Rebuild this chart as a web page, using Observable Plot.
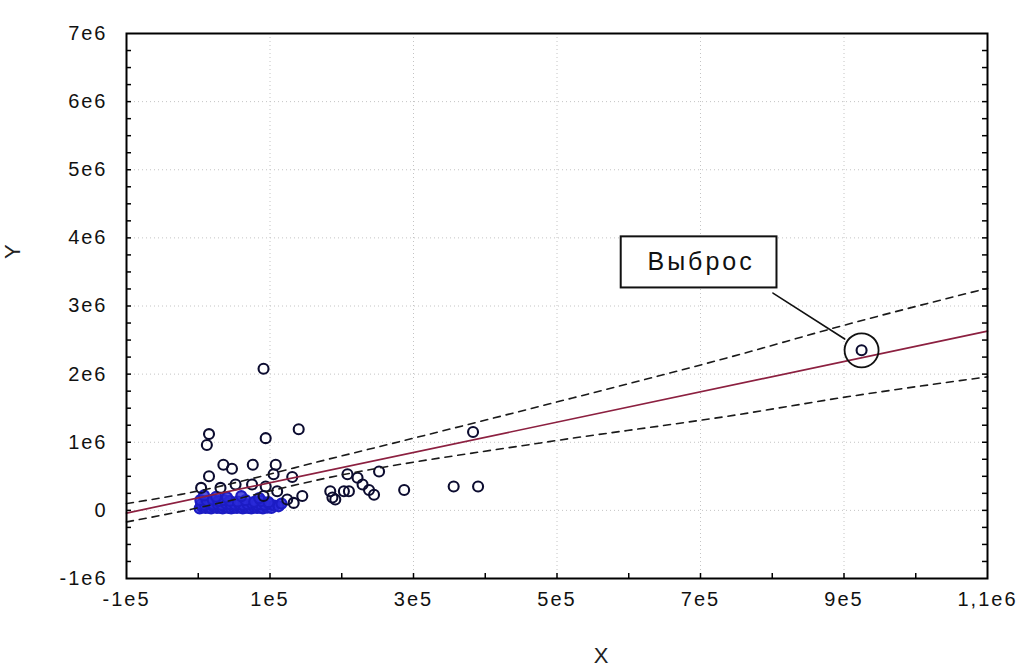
<!DOCTYPE html>
<html><head><meta charset="utf-8">
<script src="https://cdn.jsdelivr.net/npm/d3@7"></script>
<script src="https://cdn.jsdelivr.net/npm/@observablehq/plot@0.6"></script>
<style>
html,body{margin:0;padding:0;background:#fff;}
svg{font-family:"Liberation Sans",Arial,sans-serif;}
svg g[aria-label="x-axis tick label"] text, svg g[aria-label="y-axis tick label"] text{letter-spacing:2px;}
svg g.note text{letter-spacing:3px;}
</style></head>
<body><div id="chart"></div>
<script>
// Axis ticks
const xTickValues = [-1e5, 1e5, 3e5, 5e5, 7e5, 9e5, 1.1e6];
const xTickLabels = ["-1e5", "1e5", "3e5", "5e5", "7e5", "9e5", "1,1e6"];
const yTickValues = [-1e6, 0, 1e6, 2e6, 3e6, 4e6, 5e6, 6e6, 7e6];
const yTickLabels = ["-1e6", "0", "1e6", "2e6", "3e6", "4e6", "5e6", "6e6", "7e6"];
const xMinorTicks = [0, 1e5, 2e5, 3e5, 4e5, 5e5, 6e5, 7e5, 8e5, 9e5, 1e6];
const yMinorTicks = [-7.5e5, -5e5, -2.5e5, 0, 2.5e5, 5e5, 7.5e5, 1e6, 1.25e6, 1.5e6, 1.75e6, 2e6, 2.25e6, 2.5e6, 2.75e6, 3e6, 3.25e6, 3.5e6, 3.75e6, 4e6, 4.25e6, 4.5e6, 4.75e6, 5e6, 5.25e6, 5.5e6, 5.75e6, 6e6, 6.25e6, 6.5e6, 6.75e6];

// Scattered observations (X, Y)
const pointX = [91000, 15000, 12000, 94000, 140000, 35000, 47000, 76000, 108000, 15000, 105000, 131000, 145000, 187000, 4000, 31000, 52000, 75000, 94000, 110000, 124000, 133000, 91000, 184000, 191000, 203000, 210000, 208000, 222000, 229000, 238000, 245000, 252000, 287000, 356000, 390000, 383000, 924500];
const pointY = [2.08e6, 1.12e6, 0.96e6, 1.06e6, 1.19e6, 0.67e6, 0.61e6, 0.67e6, 0.67e6, 0.50e6, 0.53e6, 0.49e6, 0.21e6, 0.19e6, 0.33e6, 0.33e6, 0.38e6, 0.38e6, 0.35e6, 0.28e6, 0.16e6, 0.11e6, 0.21e6, 0.28e6, 0.16e6, 0.28e6, 0.28e6, 0.53e6, 0.48e6, 0.38e6, 0.30e6, 0.23e6, 0.57e6, 0.30e6, 0.35e6, 0.35e6, 1.15e6, 2.35e6];

// Dense cluster of observations near the origin
const clusterX = [2000, 6000, 10000, 14000, 18000, 22000, 26000, 30000, 34000, 38000, 42000, 46000, 50000, 54000, 58000, 62000, 66000, 70000, 74000, 78000, 82000, 86000, 90000, 96000, 102000,
  4000, 9000, 15000, 21000, 27000, 33000, 39000, 45000, 51000, 57000, 63000, 69000, 75000, 81000, 87000, 93000, 99000, 106000, 112000,
  3000, 12000, 20000, 28000, 36000, 44000, 55000, 66000, 78000, 88000, 98000, 116000,
  8000, 25000, 40000, 60000, 85000];
const clusterY = [30000, 45000, 35000, 40000, 30000, 50000, 35000, 40000, 30000, 45000, 35000, 30000, 40000, 35000, 45000, 30000, 40000, 35000, 30000, 45000, 35000, 40000, 30000, 40000, 35000,
  90000, 80000, 100000, 85000, 95000, 80000, 100000, 90000, 85000, 95000, 80000, 90000, 100000, 85000, 90000, 80000, 95000, 70000, 60000,
  150000, 140000, 160000, 135000, 150000, 140000, 130000, 150000, 125000, 140000, 120000, 100000,
  220000, 200000, 190000, 210000, 180000];

// Regression line and confidence bands
const fitX = [-1e5, 1.1e6];
const fitY = [-0.04e6, 2.63e6];
const upperX = [-1e5, -2.4e4, 2.0e5, 4.77e5, 7.55e5, 8.94e5, 1.1e6];
const upperY = [0.10e6, 0.235e6, 0.80e6, 1.53e6, 2.29e6, 2.70e6, 3.26e6];
const lowerX = [-1e5, -2.4e4, 2.0e5, 4.77e5, 7.55e5, 8.94e5, 1.1e6];
const lowerY = [-0.17e6, -0.015e6, 0.52e6, 0.99e6, 1.41e6, 1.65e6, 1.96e6];

// Annotation
const noteLabel = "Выброс";
const noteBoxX = [589500, 806600];
const noteBoxY = [3.265e6, 4.015e6];
const noteLineX = [801000, 901000];
const noteLineY = [3.19e6, 2.515e6];
const outlierX = 924500, outlierY = 2.35e6;

const points = pointX.map((x, i) => ({x, y: pointY[i]}));
const cluster = clusterX.map((x, i) => ({x, y: clusterY[i]}));
const fit = fitX.map((x, i) => ({x, y: fitY[i]}));
const upper = upperX.map((x, i) => ({x, y: upperY[i]}));
const lower = lowerX.map((x, i) => ({x, y: lowerY[i]}));
const noteLine = noteLineX.map((x, i) => ({x, y: noteLineY[i]}));

const W = 1026, H = 671;
const mL = 126, mR = 39, mT = 33, mB = 93;
const iW = W - mL - mR, iH = H - mT - mB;
const grid = {stroke: "#c4c4c4", strokeDasharray: "1,3", strokeWidth: 1};

const chart = Plot.plot({
  width: W, height: H,
  marginLeft: mL, marginRight: mR, marginTop: mT, marginBottom: mB,
  style: {fontFamily: "'Liberation Sans', Arial, sans-serif", background: "#fff"},
  x: {domain: [-1e5, 1.1e6]},
  y: {domain: [-1e6, 7e6]},
  marks: [
    Plot.ruleX(xTickValues.slice(1, -1), grid),
    Plot.ruleY(yTickValues.slice(1, -1), grid),
    // inward minor/major ticks
    Plot.ruleX(xMinorTicks, {stroke: "#000", strokeWidth: 1.5, insetTop: iH - 5}),
    Plot.ruleY(yMinorTicks, {stroke: "#000", strokeWidth: 1.5, insetRight: iW - 5}),
    Plot.ruleY(yMinorTicks, {stroke: "#000", strokeWidth: 1.5, insetLeft: iW - 5}),
    Plot.axisX({ticks: xTickValues, tickFormat: (d) => xTickLabels[xTickValues.indexOf(d)], tickSize: 0, tickPadding: 13, fontSize: 20, fill: "#111", label: null}),
    Plot.axisY({ticks: yTickValues, tickFormat: (d) => yTickLabels[yTickValues.indexOf(d)], tickSize: 0, tickPadding: 19, fontSize: 20, fill: "#111", label: null}),
    Plot.dot(cluster, {x: "x", y: "y", r: 5, stroke: "#1c1cc4", strokeWidth: 2.2, fill: "#2a2ad8", fillOpacity: 0.8}),
    Plot.dot(points, {x: "x", y: "y", r: 5, stroke: "#0c0c30", strokeWidth: 2.1, fill: "none"}),
    Plot.line(fit, {x: "x", y: "y", stroke: "#8c2040", strokeWidth: 1.7}),
    Plot.line(upper, {x: "x", y: "y", curve: "monotone-x", stroke: "#1a1a1a", strokeWidth: 1.6, strokeDasharray: "7,6"}),
    Plot.line(lower, {x: "x", y: "y", curve: "monotone-x", stroke: "#1a1a1a", strokeWidth: 1.6, strokeDasharray: "7,6"}),
    Plot.dot([{x: outlierX, y: outlierY}], {x: "x", y: "y", r: 17, stroke: "#111", strokeWidth: 1.8, fill: "none"}),
    Plot.line(noteLine, {x: "x", y: "y", stroke: "#111", strokeWidth: 1.6}),
    Plot.rect([{}], {x1: noteBoxX[0], x2: noteBoxX[1], y1: noteBoxY[0], y2: noteBoxY[1], fill: "#fff", stroke: "#111", strokeWidth: 2}),
    Plot.text([noteLabel], {x: (noteBoxX[0] + noteBoxX[1]) / 2, y: (noteBoxY[0] + noteBoxY[1]) / 2, text: d => d, fontSize: 25, fill: "#111", className: "note", dx: 2}),
    Plot.frame({stroke: "#000", strokeWidth: 2}),
    Plot.text(["X"], {frameAnchor: "bottom", dx: 44, dy: 84, text: d => d, fontSize: 22, fill: "#222"}),
    Plot.text(["Y"], {frameAnchor: "left", dx: -114, dy: -47, rotate: -90, text: d => d, fontSize: 22, fill: "#222"})
  ]
});
document.getElementById("chart").appendChild(chart);
</script>
</body></html>
